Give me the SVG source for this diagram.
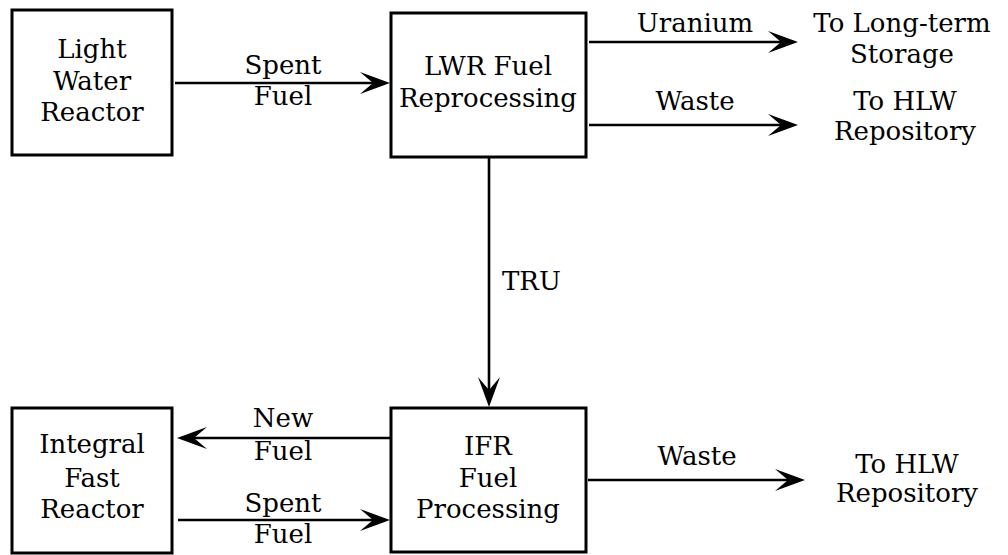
<svg xmlns="http://www.w3.org/2000/svg" width="1008" height="555" viewBox="0 0 1008 555">
<style>
.box{fill:#fff;stroke:#000;stroke-width:3}
.ln{fill:none;stroke:#000;stroke-width:2.6;marker-end:url(#ah)}
</style>
<defs>
<marker id="ah" markerUnits="userSpaceOnUse" markerWidth="40" markerHeight="30" refX="0" refY="0" orient="auto" overflow="visible">
<path d="M14,0 L-16,-11 L-3,0 L-16,11 Z" fill="#000"/>
</marker>
</defs>
<rect width="1008" height="555" fill="#fff"/>
<g id="connectors">
<line class="ln" x1="175" y1="83" x2="376" y2="83"/>
<line class="ln" x1="589" y1="42" x2="784" y2="42"/>
<line class="ln" x1="589" y1="125" x2="784" y2="125"/>
<line class="ln" x1="489" y1="157" x2="489" y2="393"/>
<line class="ln" x1="391" y1="438" x2="191" y2="438"/>
<line class="ln" x1="178" y1="520" x2="376" y2="520"/>
<line class="ln" x1="588" y1="480" x2="791" y2="480"/>
</g>
<g font-family="DejaVu Serif, serif" font-size="26" text-anchor="middle" fill="#000">
<g id="lwr">
<rect class="box" x="12" y="10" width="160" height="145"/>
<text x="92" y="58">Light</text>
<text x="92" y="90">Water</text>
<text x="92" y="121">Reactor</text>
</g>
<g id="lwr-reprocessing">
<rect class="box" x="391" y="13" width="195" height="144"/>
<text x="488" y="75">LWR Fuel</text>
<text x="488" y="107">Reprocessing</text>
</g>
<g id="ifr-processing">
<rect class="box" x="391" y="408" width="195" height="144"/>
<text x="488" y="455">IFR</text>
<text x="488" y="487">Fuel</text>
<text x="488" y="518">Processing</text>
</g>
<g id="ifr">
<rect class="box" x="12" y="408" width="160" height="145"/>
<text x="92" y="453">Integral</text>
<text x="92" y="487">Fast</text>
<text x="92" y="518">Reactor</text>
</g>
<g id="long-term-storage">
<text x="902" y="32">To Long-term</text>
<text x="902" y="63">Storage</text>
</g>
<g id="hlw-repository-1">
<text x="905" y="110">To HLW</text>
<text x="905" y="140">Repository</text>
</g>
<g id="hlw-repository-2">
<text x="907" y="473">To HLW</text>
<text x="907" y="502">Repository</text>
</g>
<g id="labels">
<text x="283" y="74">Spent</text>
<text x="283" y="105">Fuel</text>
<text x="695" y="32">Uranium</text>
<text x="695" y="110">Waste</text>
<text x="502" y="290" text-anchor="start">TRU</text>
<text x="283" y="427">New</text>
<text x="283" y="460">Fuel</text>
<text x="283" y="512">Spent</text>
<text x="283" y="543">Fuel</text>
<text x="697" y="465">Waste</text>
</g>
</g>
</svg>
